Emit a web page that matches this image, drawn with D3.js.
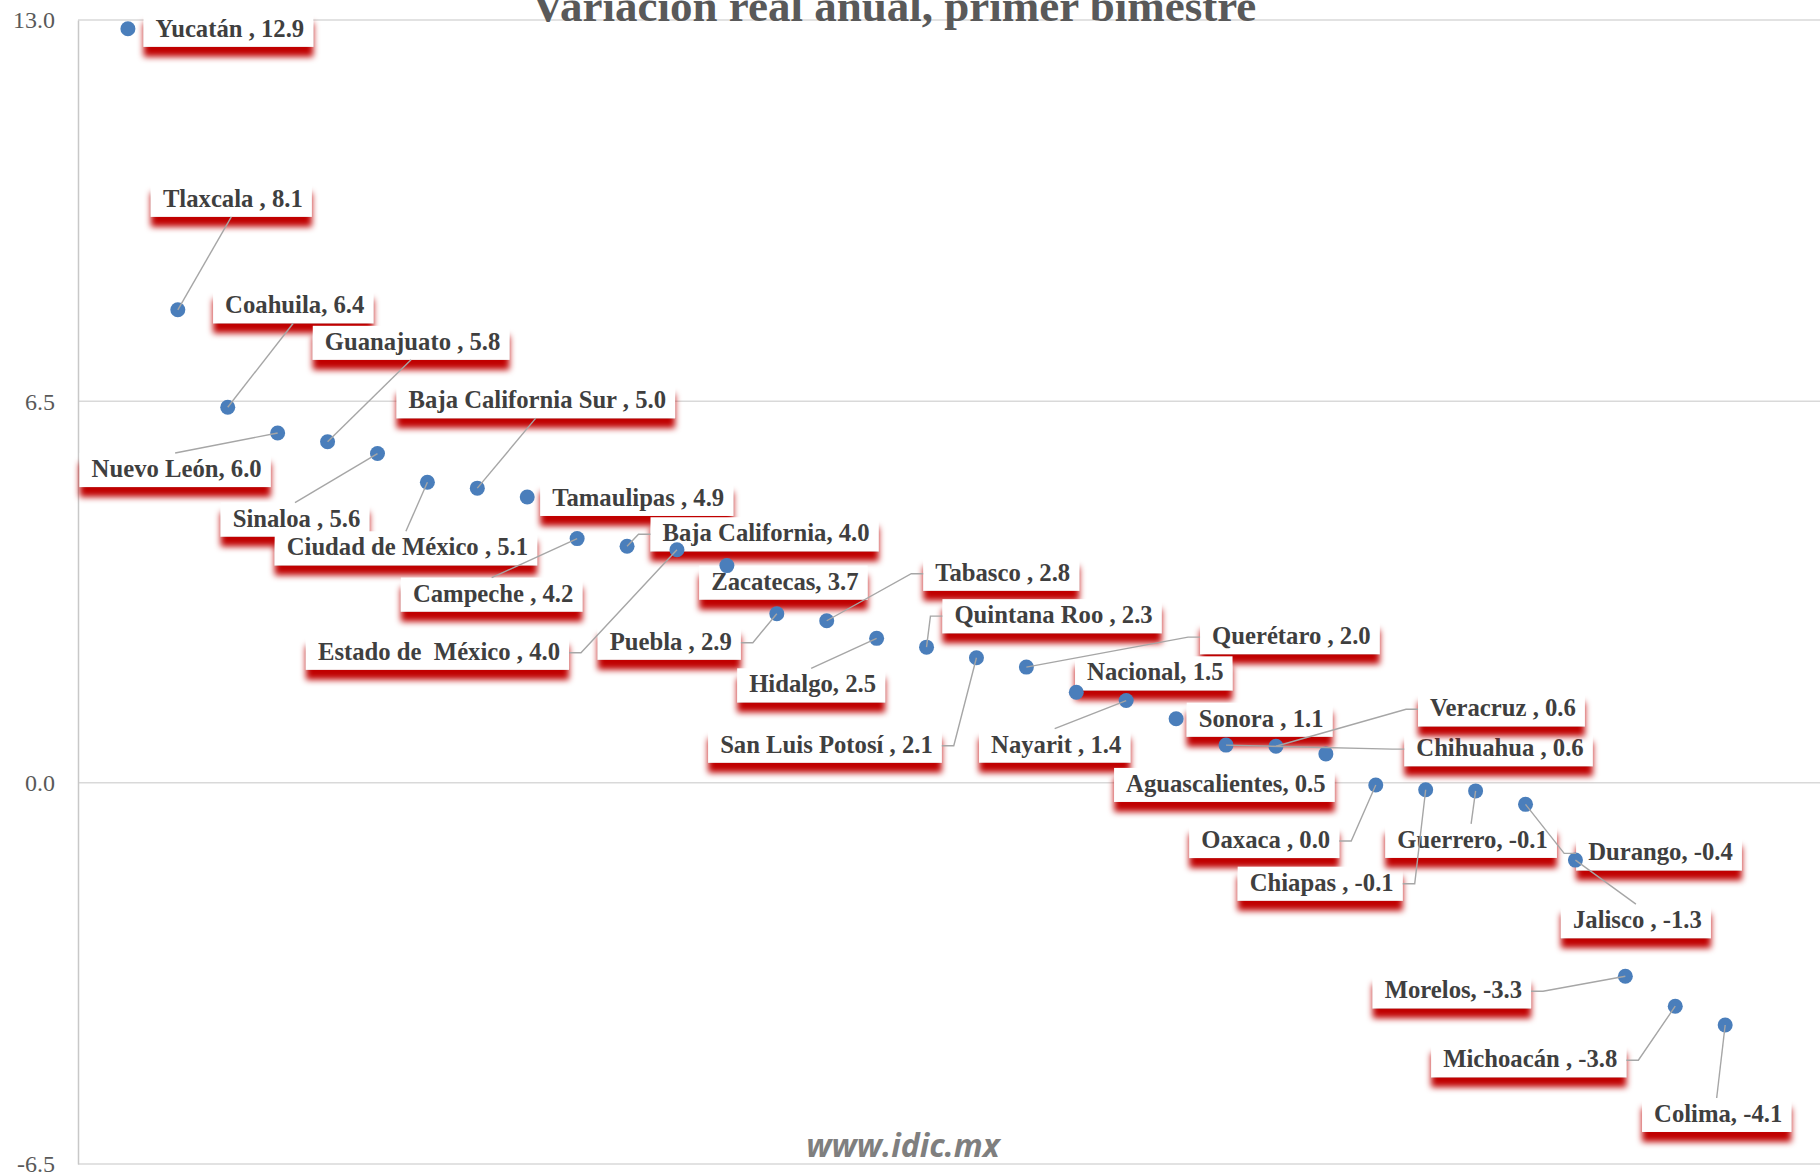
<!DOCTYPE html>
<html><head><meta charset="utf-8">
<script src="https://cdn.jsdelivr.net/npm/d3@7"></script>
<style>html,body{margin:0;padding:0;background:#fff;overflow:hidden;} svg{display:block;} text{white-space:pre;}</style>
</head><body>
<svg id="chart" width="1820" height="1176"></svg>
<script>
// ---------- data ----------
const title = "Variación real anual, primer bimestre";
const watermark = "www.idic.mx";
const states = ["Yucatán ", "Tlaxcala ", "Coahuila", "Nuevo León", "Guanajuato ", "Sinaloa ",
  "Ciudad de México ", "Baja California Sur ", "Tamaulipas ", "Campeche ", "Baja California",
  "Estado de  México ", "Zacatecas", "Puebla ", "Tabasco ", "Hidalgo", "Quintana Roo ",
  "San Luis Potosí ", "Querétaro ", "Nacional", "Nayarit ", "Sonora ", "Chihuahua ", "Veracruz ",
  "Aguascalientes", "Oaxaca ", "Chiapas ", "Guerrero", "Durango", "Jalisco ", "Morelos",
  "Michoacán ", "Colima"];
const variation = [12.85, 8.06, 6.4, 5.96, 5.81, 5.61, 5.12, 5.02, 4.87, 4.16, 4.03, 3.97, 3.7,
  2.88, 2.76, 2.46, 2.31, 2.13, 1.97, 1.54, 1.4, 1.09, 0.64, 0.62, 0.49, -0.04, -0.12, -0.14,
  -0.37, -1.32, -3.3, -3.81, -4.13];
const yTicks = [13, 6.5, 0, -6.5];
// label placement: offset of each label centre from its marker (px)
const labelDx = [102, 55, 67, -101, 85, -81, -20, 60, 111, -84, 139, -238, 58, -106, 176, -64, 127,
  -150, 265, 79, -70, 85, 274, 227, -100, -110, -104, -3, 135, 62, -172, -145, -7];
const labelDy = [0, -111, -102, 36, -100, 65, 65, -88, 1, 55, -13, 102, 16, 28, -48, 46, -32,
  87, -31, -20, 44, 0, 3, -38, 30, 55, 93, 49, 48, 60, 14, 53, 89];

// ---------- layout ----------
const W = 1820, H = 1176;
const svg = d3.select("#chart");
const x = d3.scaleLinear().domain([0, 35]).range([78, 1825]);
const y = d3.scaleLinear().domain([-6.5, 13]).range([1164, 20]);
const fmt = v => (Math.round(v * 10) / 10).toFixed(1);

const defs = svg.append("defs");
const f = defs.append("filter").attr("id", "redShadow")
  .attr("x", "-0.1").attr("y", "-0.3").attr("width", "1.2").attr("height", "2");
f.append("feDropShadow").attr("dx", 0).attr("dy", 10).attr("stdDeviation", 3)
  .attr("flood-color", "#c00000").attr("flood-opacity", 1);

// gridlines
svg.append("g").selectAll("line").data(yTicks).join("line")
  .attr("x1", 78).attr("x2", W).attr("y1", d => y(d)).attr("y2", d => y(d))
  .attr("stroke", "#d9d9d9").attr("stroke-width", 1.5);

// y axis
const yAxis = d3.axisLeft(y).tickValues(yTicks).tickSize(0).tickPadding(23).tickFormat(d => d.toFixed(1));
const gA = svg.append("g").attr("transform", "translate(78,0)").call(yAxis);
gA.select(".domain").attr("stroke", "#c8c8c8").attr("stroke-width", 1.5);
gA.selectAll("text").attr("font-family", "Liberation Serif").attr("font-size", 24).attr("fill", "#595959");

// title
svg.append("text").attr("x", 894).attr("y", 21).attr("text-anchor", "middle")
  .attr("font-family", "Liberation Serif").attr("font-weight", "bold").attr("font-size", 45)
  .attr("fill", "#595959").text(title);

// watermark
svg.append("text").attr("x", 903).attr("y", 1157).attr("text-anchor", "middle")
  .attr("font-family", "Open Sans").attr("font-style", "italic").attr("font-weight", 700)
  .attr("font-size", 32).attr("fill", "#7f7f7f").text(watermark);

// data labels
const data = states.map((s, i) => ({
  name: s, v: variation[i], px: x(i + 1), py: y(variation[i]),
  cx: x(i + 1) + labelDx[i], cy: y(variation[i]) + labelDy[i]
}));
const gL = svg.append("g");
data.forEach(d => {
  const g = gL.append("g");
  const rect = g.append("rect");
  const t = g.append("text").attr("font-family", "Liberation Serif").attr("font-weight", "bold")
    .attr("font-size", 24.7).attr("fill", "#3f3f3f").text(d.name + ", " + fmt(d.v));
  const w = t.node().getComputedTextLength();
  const tx = d.cx - w / 2, base = d.cy + 8;
  t.attr("x", tx).attr("y", base);
  d.bx0 = tx - 12; d.bx1 = tx + w + 9; d.by0 = base - 24; d.by1 = base + 10;
  rect.attr("x", d.bx0).attr("y", d.by0).attr("width", d.bx1 - d.bx0).attr("height", d.by1 - d.by0)
    .attr("fill", "#fff").attr("filter", "url(#redShadow)");
});

// markers
svg.append("g").selectAll("circle").data(data).join("circle")
  .attr("cx", d => d.px).attr("cy", d => d.py).attr("r", 7.5).attr("fill", "#4a7ebb");

// leader lines
const gLead = svg.append("g").attr("fill", "none").attr("stroke", "#a6a6a6").attr("stroke-width", 1.4);
data.forEach(d => {
  const dxr = Math.max(d.bx0 - d.px, 0, d.px - d.bx1);
  const dyr = Math.max(d.by0 - d.py, 0, d.py - d.by1);
  if (Math.hypot(dxr, dyr) < 20) return;
  const mY = (d.by0 + d.by1) / 2, mX = (d.bx0 + d.bx1) / 2;
  let pts;
  if (d.px >= d.bx0 - 12 && d.px <= d.bx1 + 12) {
    const ay = d.py < d.by0 ? d.by0 : d.by1;
    pts = [[mX, ay], [d.px, d.py]];
  } else if (d.px < d.bx0) {
    pts = [[d.bx0, mY], [d.bx0 - 12, mY], [d.px, d.py]];
  } else {
    pts = [[d.bx1, mY], [d.bx1 + 12, mY], [d.px, d.py]];
  }
  gLead.append("path").attr("d", d3.line()(pts));
});
</script>
</body></html>
